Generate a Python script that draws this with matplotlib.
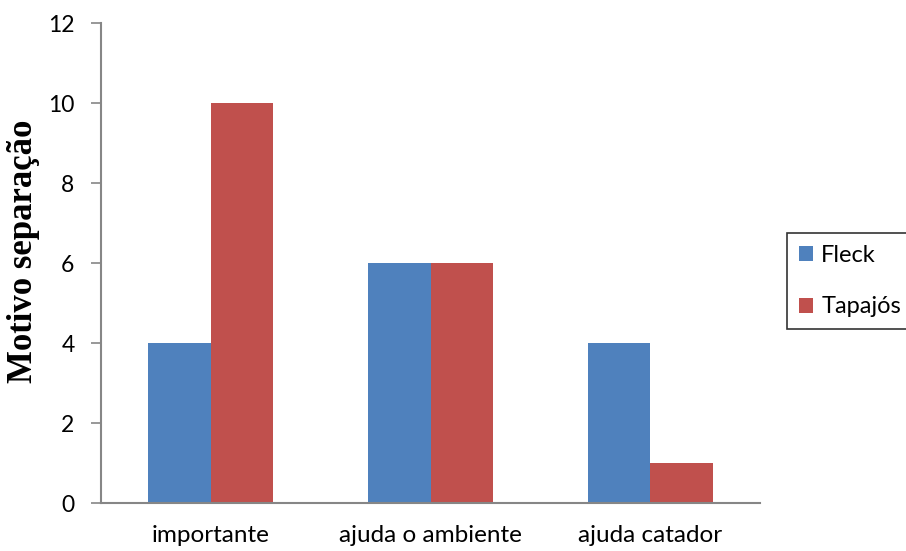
import matplotlib.pyplot as plt
import numpy as np

categories = ['importante', 'ajuda o ambiente', 'ajuda catador']
fleck = [4, 6, 4]
tapajos = [10, 6, 1]
y_ticks = [0, 2, 4, 6, 8, 10, 12]

blue = '#4F81BD'
red = '#C0504D'
axis_gray = '#868686'

fig = plt.figure(figsize=(9.06, 5.51), dpi=100)
ax = fig.add_axes([101 / 906, 48 / 551, 659 / 906, 480 / 551])

x = np.arange(len(categories))
w = 0.285
ax.bar(x - w / 2, fleck, w, color=blue, label='Fleck')
ax.bar(x + w / 2, tapajos, w, color=red, label='Tapajós')

ax.set_xlim(-0.5, 2.5)
ax.set_ylim(0, 12)
ax.set_yticks(y_ticks)
ax.set_yticklabels([str(v) for v in y_ticks], fontsize=16.5, family='Lato')
ax.set_xticks(x)
ax.set_xticklabels(categories, fontsize=17.5, family='Lato')
ax.tick_params(axis='x', length=0, pad=16)
ax.tick_params(axis='y', length=7, width=1.2, color=axis_gray, pad=12)

for side in ['top', 'right']:
    ax.spines[side].set_visible(False)
for side in ['left', 'bottom']:
    ax.spines[side].set_color(axis_gray)
    ax.spines[side].set_linewidth(1.5)

ax.set_ylabel('Motivo separação', fontsize=25, fontweight='bold',
              family='Liberation Serif')
ax.yaxis.set_label_coords(-0.093, 0.525)

leg = ax.legend(loc='center left', bbox_to_anchor=(787 / 906, 0.49), bbox_transform=fig.transFigure,
                frameon=True, fancybox=False, prop={'family': 'Lato', 'size': 17},
                handlelength=0.6, handleheight=0.6, handletextpad=0.35,
                labelspacing=1.3, borderpad=0.5, borderaxespad=0)
leg.get_frame().set_edgecolor('black')
leg.get_frame().set_linewidth(1.2)

fig.savefig('out.png', dpi=100)
